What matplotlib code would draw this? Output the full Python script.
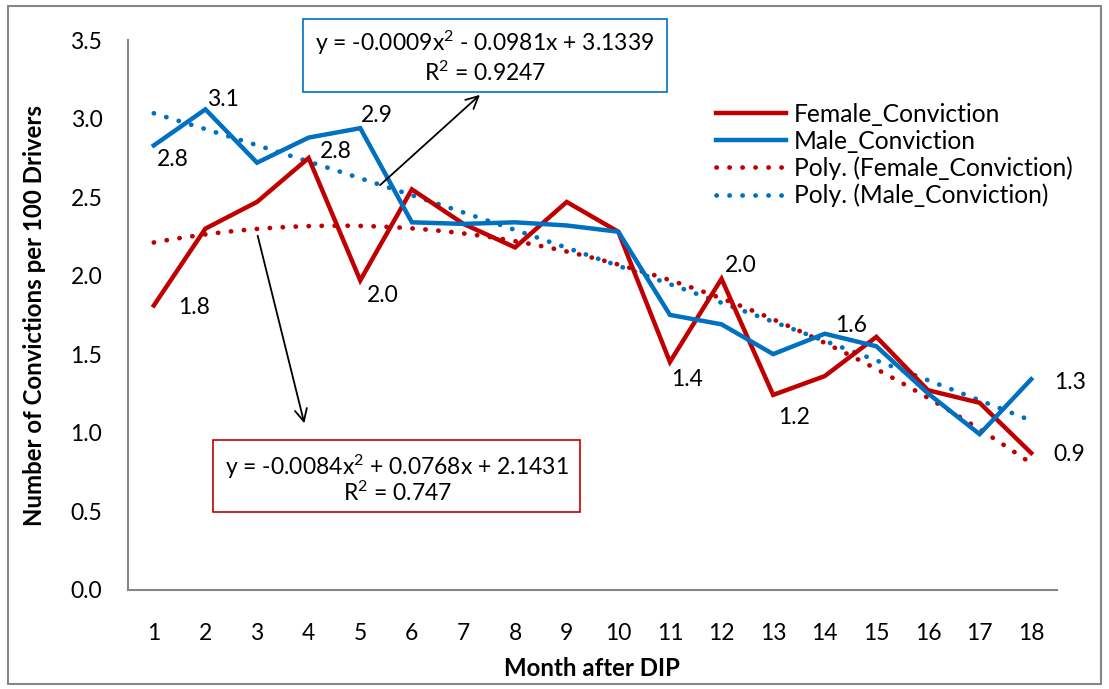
import numpy as np
import matplotlib
matplotlib.use("Agg")
import matplotlib.pyplot as plt
from matplotlib.patches import Rectangle, FancyArrowPatch

plt.rcParams['font.family'] = ['Lato', 'DejaVu Sans']
plt.rcParams['mathtext.fontset'] = 'custom'
plt.rcParams['mathtext.rm'] = 'Lato'
plt.rcParams['mathtext.it'] = 'Lato:italic'
plt.rcParams['mathtext.bf'] = 'Lato:bold'

# ---------------- data ----------------
months = list(range(1, 19))
female = [1.81, 2.30, 2.47, 2.75, 1.97, 2.55, 2.33, 2.18, 2.47, 2.28,
          1.45, 1.98, 1.24, 1.36, 1.61, 1.27, 1.19, 0.87]
male = [2.83, 3.06, 2.72, 2.88, 2.94, 2.34, 2.33, 2.34, 2.32, 2.28,
        1.75, 1.69, 1.50, 1.63, 1.55, 1.25, 0.99, 1.34]

# trendline coefficients (from the chart's equations)
female_poly = [-0.0084, 0.0768, 2.1431]
male_poly = [-0.0009, -0.0981, 3.1339]

female_label_months = [1, 4, 5, 11, 12, 13, 18]
female_label_text = ["1.8", "2.8", "2.0", "1.4", "2.0", "1.2", "0.9"]
male_label_months = [1, 2, 5, 14, 18]
male_label_text = ["2.8", "3.1", "2.9", "1.6", "1.3"]

yticks = [0.0, 0.5, 1.0, 1.5, 2.0, 2.5, 3.0, 3.5]

RED = "#C00000"
BLUE = "#0070C0"
GRAY = "#868686"
FS = 16.5
LFS = 17.7
TFS = 17.3

fig = plt.figure(figsize=(11.09, 6.89), dpi=100)
W, H = 1109, 689
ax = fig.add_axes([128 / W, (H - 589.5) / H, (1057 - 128) / W, (589.5 - 40.3) / H])

x = np.array(months)
ax.plot(x, female, color=RED, lw=3.2, solid_joinstyle='miter', label="Female_Conviction", zorder=4)
ax.plot(x, male, color=BLUE, lw=3.2, solid_joinstyle='miter', label="Male_Conviction", zorder=5)

xs = np.linspace(1, 18, 300)
ax.plot(xs, np.polyval(female_poly, xs), color=RED, lw=3.4, ls=(0, (0.05, 2.7)),
        dash_capstyle='round', label="Poly. (Female_Conviction)", zorder=3)
ax.plot(xs, np.polyval(male_poly, xs), color=BLUE, lw=3.4, ls=(0, (0.05, 2.7)),
        dash_capstyle='round', label="Poly. (Male_Conviction)", zorder=3)

ax.set_xlim(0.5, 18.5)
ax.set_ylim(0, 3.5)
ax.set_xticks(months)
ax.set_xticklabels([str(m) for m in months], fontsize=FS)
ax.set_yticks(yticks)
ax.set_yticklabels([f"{v:.1f}" for v in yticks], fontsize=FS)
ax.tick_params(axis='x', length=0, pad=24)
ax.tick_params(axis='y', length=0, pad=18.5)
for s in ['top', 'right']:
    ax.spines[s].set_visible(False)
for s in ['left', 'bottom']:
    ax.spines[s].set_color(GRAY)
    ax.spines[s].set_linewidth(1.5)

# data labels (offsets in pixels)
f_off = [(40, -2), (27, 6), (22, -15), (17, -18), (19, 13), (21, -23), (38, -2)]
m_off = [(19, -14), (18, 10), (17, 13), (26, 8), (39, -3)]
for mth, t, o in zip(female_label_months, female_label_text, f_off):
    ax.annotate(t, (mth, female[mth - 1]), xytext=o, textcoords='offset pixels',
                ha='center', va='center', fontsize=FS, zorder=6)
for mth, t, o in zip(male_label_months, male_label_text, m_off):
    ax.annotate(t, (mth, male[mth - 1]), xytext=o, textcoords='offset pixels',
                ha='center', va='center', fontsize=FS, zorder=6)

# legend
leg = ax.legend(loc='upper left', bbox_to_anchor=((716 - 128) / (1057 - 128), (589.5 - 103) / (589.5 - 40.3)),
                frameon=False, fontsize=LFS, handlelength=2.85, handletextpad=0.33,
                labelspacing=0.15, borderpad=0, borderaxespad=0)

def px(xp, yp):
    return (xp / W, 1 - yp / H)

# equation boxes
fig.patches.append(Rectangle(px(303, 92), (667 - 303) / W, (92 - 19) / H, transform=fig.transFigure,
                             fill=True, facecolor='white', edgecolor=BLUE, lw=1.2, zorder=10))
fig.text(*px(485, 43), "y = -0.0009x$^2$ - 0.0981x + 3.1339", ha='center', va='center', fontsize=FS, zorder=11)
fig.text(*px(485, 73), "R$^2$ = 0.9247", ha='center', va='center', fontsize=FS, zorder=11)

fig.patches.append(Rectangle(px(213, 512), (580 - 213) / W, (512 - 440) / H, transform=fig.transFigure,
                             fill=True, facecolor='white', edgecolor=RED, lw=1.2, zorder=10))
fig.text(*px(397, 467), "y = -0.0084x$^2$ + 0.0768x + 2.1431", ha='center', va='center', fontsize=FS, zorder=11)
fig.text(*px(397, 493), "R$^2$ = 0.747", ha='center', va='center', fontsize=FS, zorder=11)

# arrows
fig.add_artist(FancyArrowPatch(px(378, 187), px(482, 93), transform=fig.transFigure,
               arrowstyle='->', mutation_scale=22, color='black', lw=1.3, zorder=9))
fig.add_artist(FancyArrowPatch(px(257, 233), px(305, 426), transform=fig.transFigure,
               arrowstyle='->', mutation_scale=22, color='black', lw=1.3, zorder=9))

# axis titles
fig.text(*px(35, 315), "Number of Convictions per 100 Drivers", rotation=90, ha='center', va='center',
         fontsize=TFS, fontweight='bold')
fig.text(*px(592, 668), "Month after DIP", ha='center', va='center', fontsize=TFS, fontweight='bold')

# chart border
fig.patches.append(Rectangle(px(8, 684), (1101 - 8) / W, (684 - 6) / H, transform=fig.transFigure,
                             fill=False, edgecolor=GRAY, lw=1.5))

fig.savefig("out.png", dpi=100)
